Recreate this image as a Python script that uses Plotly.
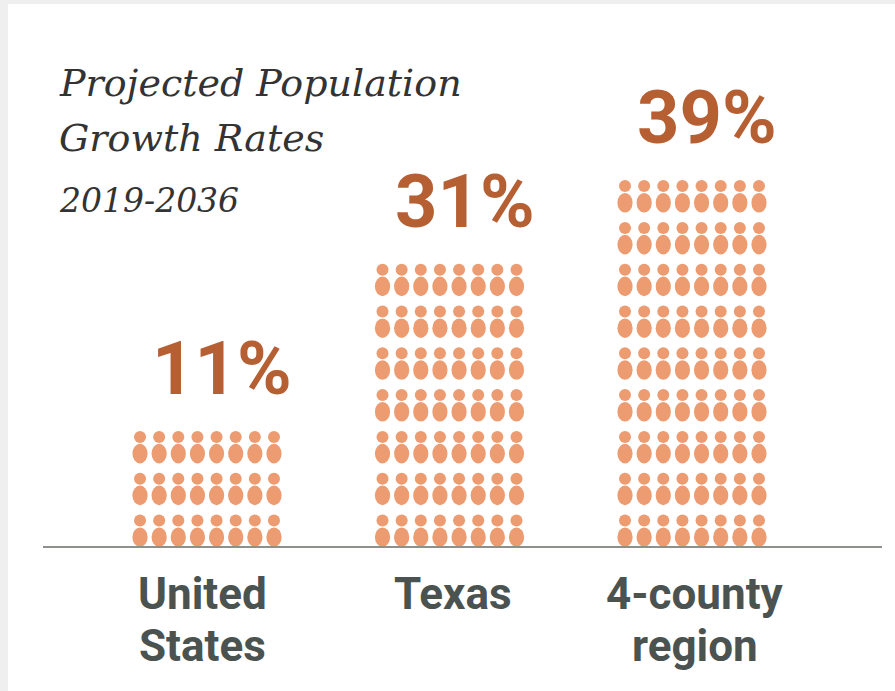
import plotly.graph_objects as go

# ---- data -------------------------------------------------------------
categories = ["United States", "Texas", "4-county region"]
label_lines = [["United", "States"], ["Texas"], ["4-county", "region"]]
growth_pct = [11, 31, 39]
icon_rows = [3, 7, 9]          # rows of person icons in each column stack
icon_cols = 8                  # icons per row

title_lines = ["Projected Population", "Growth Rates"]
period = "2019-2036"

# ---- geometry / style -------------------------------------------------
W, H = 895, 691
x_unit = 242.5      # px between category centres
x0_px = 207         # px position of the first category
row_px = 41.8       # px per icon row
base_px = 547       # px of the baseline
col_px = 19.14      # px between icon columns

ICON = "#EC9C70"
PCT = "#B65F33"
LABEL = "#4B5351"
TITLE = "#333333"

xr = [-x0_px / x_unit, (W - x0_px) / x_unit]
yr = [-(H - base_px) / row_px, base_px / row_px]

head_dy = 0.634
body_dy = 0.235
body_hw = 7.6 / x_unit
body_hh = 9.8 / row_px

heads_x, heads_y = [], []
shapes = [
    dict(type="rect", xref="paper", yref="paper", x0=8 / W, x1=1, y0=0, y1=1 - 4 / H,
         fillcolor="white", line=dict(width=0), layer="below"),
]
for i, rows in enumerate(icon_rows):
    for r in range(rows):
        for c in range(icon_cols):
            cx = i + (c - (icon_cols - 1) / 2) * col_px / x_unit
            heads_x.append(cx)
            heads_y.append(r + head_dy)
            shapes.append(dict(
                type="circle", xref="x", yref="y",
                x0=cx - body_hw, x1=cx + body_hw,
                y0=r + body_dy - body_hh, y1=r + body_dy + body_hh,
                fillcolor=ICON, line=dict(width=0), layer="above"))

shapes.append(dict(type="line", xref="paper", yref="y", x0=43 / W, x1=882 / W, y0=0, y1=0,
                   line=dict(color="#8D918C", width=2)))

fig = go.Figure()
fig.add_trace(go.Scatter(
    x=heads_x, y=heads_y, mode="markers",
    marker=dict(size=12, color=ICON, line=dict(width=0)),
    hoverinfo="skip", showlegend=False))

annotations = []
# percentage labels above each stack
for i, (v, rows) in enumerate(zip(growth_pct, icon_rows)):
    top = rows - 1 + head_dy + 5 / row_px
    annotations.append(dict(
        x=i, y=top, xref="x", yref="y", text=f"{v}%", showarrow=False,
        xanchor="center", yanchor="bottom", xshift=15, yshift=18,
        font=dict(family="Roboto", size=74, color=PCT, weight=700)))

# category labels under the baseline
label_shift = [-5, 3, 3]
for i, lines in enumerate(label_lines):
    for j, line in enumerate(lines):
        annotations.append(dict(
            x=i, y=0, xref="x", yref="y", text=line, showarrow=False,
            xanchor="center", yanchor="top", xshift=label_shift[i], yshift=-(19 + 52 * j),
            font=dict(family="Roboto", size=44, color=LABEL, weight=700)))

# title block
title_tops = [58.7, 114]
for t, top in zip(title_lines, title_tops):
    annotations.append(dict(
        x=57 / W, y=1 - top / H, xref="paper", yref="paper", text=t, showarrow=False,
        xanchor="left", yanchor="top",
        font=dict(family="DejaVu Serif", size=38, color=TITLE, style="italic")))
annotations.append(dict(
    x=57 / W, y=1 - 179 / H, xref="paper", yref="paper", text=period, showarrow=False,
    xanchor="left", yanchor="top",
    font=dict(family="DejaVu Serif", size=33, color=TITLE, style="italic")))

fig.update_layout(
    width=W, height=H,
    margin=dict(l=0, r=0, t=0, b=0),
    paper_bgcolor="#EFEFEF",
    plot_bgcolor="rgba(0,0,0,0)",
    xaxis=dict(range=xr, visible=False, fixedrange=True),
    yaxis=dict(range=yr, visible=False, fixedrange=True),
    shapes=shapes,
    annotations=annotations,
    showlegend=False,
)

fig.write_html("out.html")
